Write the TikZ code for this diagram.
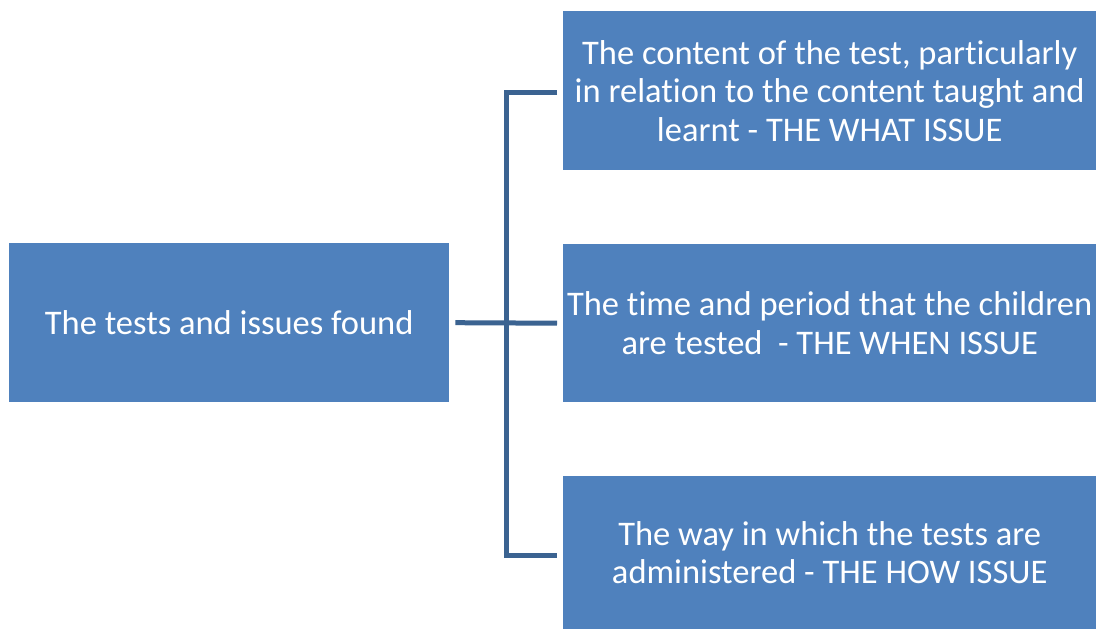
\documentclass[tikz,border=0pt]{standalone}
\usepackage{fontspec}
\setmainfont{Carlito}[Ligatures=CommonOff]
\definecolor{boxblue}{HTML}{4F81BD}
\definecolor{linkblue}{HTML}{3B6391}
\begin{document}
\begin{tikzpicture}[x=1pt,y=-1pt,
  issuebox/.style={fill=boxblue,draw=none,text=white,align=center,
    inner sep=0pt,
    font=\fontsize{34.5}{38.5}\selectfont},
  link/.style={draw=linkblue,line width=5pt}]
  \useasboundingbox[fill=white] (0,0) rectangle (1103,629);
  % source box on the left
  \node[issuebox,minimum width=440pt,minimum height=159pt,anchor=north west] (src) at (9,243)
    {The tests and issues found};
  % three issue boxes on the right
  \node[issuebox,minimum width=533pt,minimum height=159pt,anchor=north west] (what) at (563,11)
    {The content of the test, particularly\\in relation to the content taught and\\learnt - THE WHAT ISSUE};
  \node[issuebox,minimum width=533pt,minimum height=158pt,anchor=north west] (when) at (563,244)
    {The time and period that the children\\are tested\ \ - THE WHEN ISSUE};
  \node[issuebox,minimum width=533pt,minimum height=153pt,anchor=north west] (how) at (563,476)
    {The way in which the tests are\\administered - THE HOW ISSUE};
  % bracket joining the source to the issues
  \coordinate (spine) at (506.5,0);
  \coordinate (whatend) at ([xshift=-6pt,yshift=-1.5pt]what.west);
  \coordinate (howend) at ([xshift=-6pt,yshift=-2.5pt]how.west);
  \draw[link] ([xshift=6pt]src.east) -- ([xshift=-6pt]when.west);
  \draw[link,line join=miter] (whatend) -- (spine |- whatend)
    -- (spine |- howend) -- (howend);
\end{tikzpicture}
\end{document}
